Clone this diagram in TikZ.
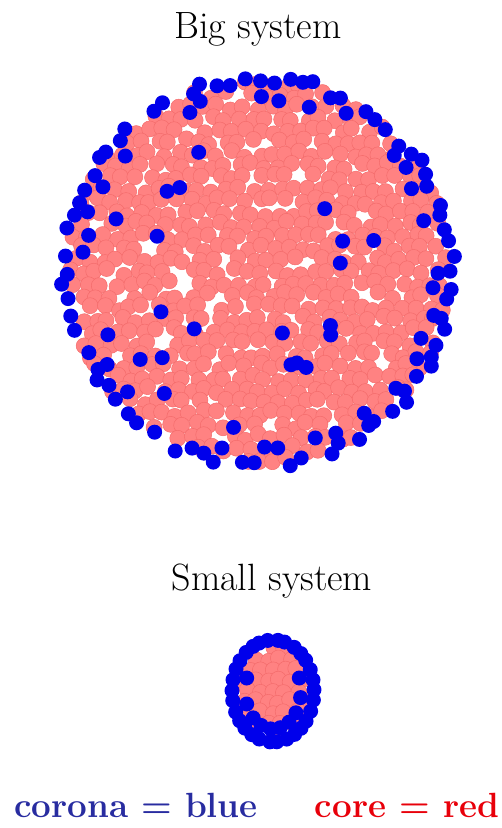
\documentclass[tikz,border=0pt]{standalone}
\usepackage{tikz}
\definecolor{coreFill}{RGB}{255,130,130}
\definecolor{coreLine}{RGB}{244,108,108}
\definecolor{coronaBlue}{RGB}{0,0,235}
\definecolor{txtBlue}{RGB}{40,44,160}
\definecolor{txtRed}{RGB}{232,0,10}
\tikzset{
  core/.style={fill=coreFill, draw=coreLine, line width=0.5pt},
  corona/.style={fill=coronaBlue},
  title/.style={anchor=base, font=\fontsize{38}{40}\selectfont},
  legend/.style={anchor=base, font=\fontsize{35}{37}\selectfont\bfseries}
}
\begin{document}
\begin{tikzpicture}[x=1pt,y=-1pt]
\useasboundingbox (0,0) rectangle (502,828);
\pgfmathsetseed{7}
% ---------------- big system: core
\foreach \row in {-17,...,17} {
  \foreach \col in {-15,...,15} {
    \pgfmathsetmacro\px{\col*13.6 + 6.8*mod(abs(\row),2) + 3.5*rand}
    \pgfmathsetmacro\py{\row*11.8 + 3.5*rand}
    \pgfmathtruncatemacro\keep{(veclen(\px,\py) < 191) && (rnd > 0.045)}
    \ifnum\keep=1 \draw[core] (259+\px, 272+\py) circle (8pt); \fi
  }
}
% ---------------- big system: corona rim
\foreach \k in {0,...,83} {
  \pgfmathsetmacro\a{\k*(360/84) + 1.5*rand}
  \pgfmathsetmacro\r{193 + 5*rand}
  \pgfmathtruncatemacro\keep{rnd > 0.1}
  \ifnum\keep=1 \fill[corona] ({259+\r*cos(\a)},{272+\r*sin(\a)}) circle (7.5pt); \fi
}
\foreach \k in {0,...,59} {
  \pgfmathsetmacro\a{\k*6 + 2*rand}
  \pgfmathsetmacro\r{177 + 5*rand}
  \pgfmathtruncatemacro\keep{rnd > 0.55}
  \ifnum\keep=1 \fill[corona] ({259+\r*cos(\a)},{272+\r*sin(\a)}) circle (7.5pt); \fi
}
\foreach \k in {1,...,22} {
  \pgfmathsetmacro\a{360*rnd}
  \pgfmathsetmacro\r{60 + 105*rnd}
  \fill[corona] ({259+\r*cos(\a)},{272+\r*sin(\a)}) circle (7.5pt);
}
% ---------------- small system: core
\foreach \row in {-4,...,4} {
  \foreach \col in {-3,...,3} {
    \pgfmathsetmacro\px{\col*12 + 6*mod(abs(\row),2) + 2*rand}
    \pgfmathsetmacro\py{\row*10.5 + 2*rand}
    \pgfmathtruncatemacro\keep{(\px/34)^2 + (\py/46)^2 < 1}
    \ifnum\keep=1 \draw[core] (273+\px, 691+\py) circle (8pt); \fi
  }
}
% ---------------- small system: corona
\foreach \k in {0,...,29} {
  \pgfmathsetmacro\a{\k*12 + 2*rand}
  \fill[corona] ({273+41*cos(\a)},{691+51*sin(\a)}) circle (7.5pt);
}
\foreach \a in {35,55,75,95,115,135,160,200,340,10} {
  \fill[corona] ({273+28*cos(\a)},{691+38*sin(\a)}) circle (7.5pt);
}
% ---------------- texts
\node[title] (big) at (258,38) {Big system};
\node[title] (small) at (272,590) {Small system};
\node[legend, text=txtBlue] (corona) at (136,817) {corona = blue};
\node[legend, text=txtRed] (core) at (407,817) {core = red};
\end{tikzpicture}
\end{document}
